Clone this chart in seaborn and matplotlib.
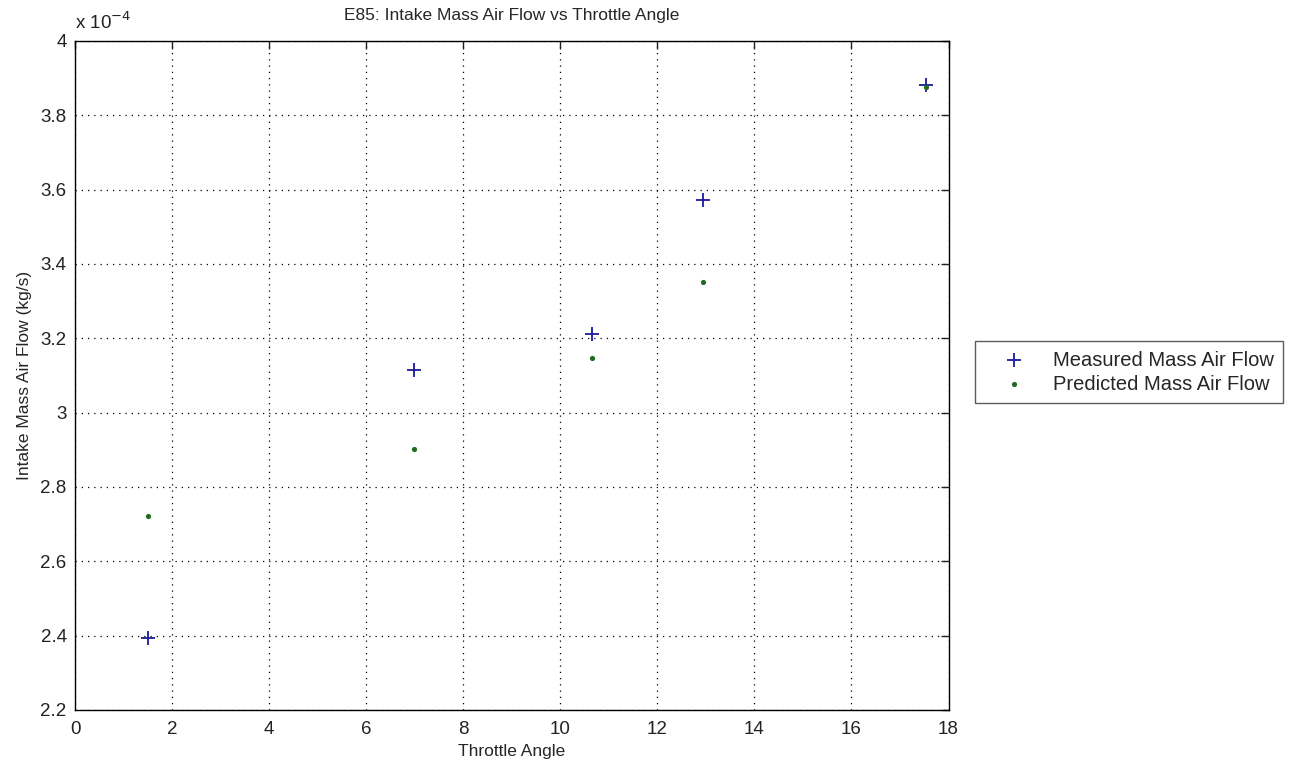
import numpy as np
import pandas as pd
import seaborn as sns
import matplotlib.pyplot as plt
from matplotlib.ticker import FuncFormatter, MultipleLocator


# Throttle angle and intake mass air flow (kg/s)
throttle_angle = [1.5, 6.98, 10.65, 12.95, 17.53]
measured_maf = [2.394e-4, 3.114e-4, 3.211e-4, 3.572e-4, 3.882e-4]
predicted_maf = [2.723e-4, 2.901e-4, 3.146e-4, 3.350e-4, 3.877e-4]

sns.set_style("white")
plt.rcParams['font.family'] = ['Liberation Sans', 'DejaVu Sans']

df_meas = pd.DataFrame({"angle": throttle_angle, "maf": measured_maf})
df_pred = pd.DataFrame({"angle": throttle_angle, "maf": predicted_maf})

fig = plt.figure(figsize=(12.94, 7.7), dpi=100)
ax = fig.add_axes([0.058, 0.078, 0.675, 0.869])

sns.scatterplot(data=df_meas, x="angle", y="maf", marker="+", color="#1a1a9a",
                s=110, linewidth=1.3, label="Measured Mass Air Flow", ax=ax, zorder=3)
sns.scatterplot(data=df_pred, x="angle", y="maf", marker="o", color="#1f6b1f",
                s=14, linewidth=0, label="Predicted Mass Air Flow", ax=ax, zorder=3)

ax.set_xlim(0, 18)
ax.set_ylim(2.2e-4, 4e-4)
ax.xaxis.set_major_locator(MultipleLocator(2))
ax.yaxis.set_major_locator(MultipleLocator(0.2e-4))
ax.xaxis.set_major_formatter(FuncFormatter(lambda v, p: "%g" % v))
ax.yaxis.set_major_formatter(FuncFormatter(lambda v, p: "%g" % round(v / 1e-4, 4)))

ax.grid(True, color="black", linestyle=(0, (1, 4)), linewidth=0.9)
for side in ax.spines.values():
    side.set_color("black")
    side.set_linewidth(1.0)
ax.tick_params(direction="in", length=6, width=1, top=True, right=True,
               labelsize=13.5, colors="#222222", pad=6)
ax.tick_params(axis="x", pad=8)

ax.set_title("E85: Intake Mass Air Flow vs Throttle Angle", fontsize=12.5, pad=15)
ax.set_xlabel("Throttle Angle", fontsize=12.5, labelpad=4)
ax.set_ylabel("Intake Mass Air Flow (kg/s)", fontsize=12.5, labelpad=6)
ax.text(0.0, 1.012, r"x 10$^{-4}$", transform=ax.transAxes, fontsize=13.5, ha="left", va="bottom",
        color="#222222")

leg = ax.legend(loc="center left", bbox_to_anchor=(1.03, 0.505), borderaxespad=0,
                frameon=True, fancybox=False, fontsize=14.5, borderpad=0.45,
                handlelength=3, handletextpad=0.45, labelspacing=0.25)
leg.get_frame().set_edgecolor("#333333")
leg.get_frame().set_linewidth(1.0)

fig.savefig("out.png", dpi=100)
